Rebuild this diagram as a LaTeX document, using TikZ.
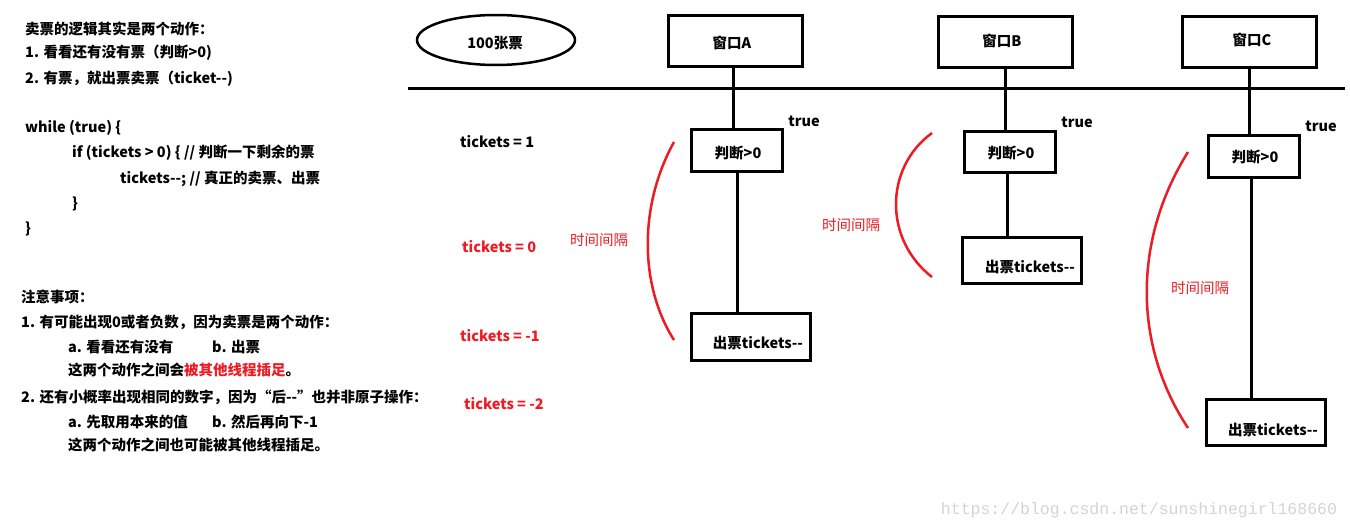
\documentclass[tikz,border=0pt]{standalone}
\usepackage{fontspec}
\usetikzlibrary{shapes.geometric}
\newfontfamily\cjk{Noto Sans CJK SC}
\newfontfamily\wmfont{Liberation Mono}
\definecolor{pred}{HTML}{ED1C24}
\definecolor{wm}{HTML}{D4D4D4}
\tikzset{
  txt/.style={inner sep=0pt, font=\cjk\bfseries\fontsize{14.5}{17}\selectfont},
  ltxt/.style={txt, anchor=west},
  rtxt/.style={ltxt, text=pred},
  gap/.style={inner sep=0pt, text=pred, font=\cjk\fontsize{14.5}{17}\selectfont},
  box/.style={draw, line width=3pt, inner sep=0pt},
  wbox/.style={box, minimum width=134pt, minimum height=51pt},
  jbox/.style={box, minimum width=91pt, minimum height=42pt},
  obox/.style={box, minimum width=119pt, minimum height=47pt},
  link/.style={line width=3pt},
  arcline/.style={draw=pred, line width=2.5pt},
}
\begin{document}
\begin{tikzpicture}[x=1pt,y=-1pt]
\useasboundingbox[fill=white] (0,0) rectangle (1350,530);

% left text block
\node[ltxt] (l1) at (25,29) {卖票的逻辑其实是两个动作：};
\node[ltxt] (l2) at (25,53) {1. 看看还有没有票（判断>0)};
\node[ltxt] (l3) at (25,79) {2. 有票，就出票卖票（ticket--)};
\node[ltxt] (l4) at (25,128) {while (true) \{};
\node[ltxt] (l5) at (72,153) {if (tickets > 0) \{ // 判断一下剩余的票};
\node[ltxt] (l6) at (120,179) {tickets--; // 真正的卖票、出票};
\node[ltxt] (l7) at (72,204) {\}};
\node[ltxt] (l8) at (25,229) {\}};

\node[ltxt] (n1) at (21,297) {注意事项：};
\node[ltxt] (n2) at (21,322) {1. 有可能出现0或者负数，因为卖票是两个动作：};
\node[ltxt] (n3a) at (68,347) {a. 看看还有没有};
\node[ltxt] (n3b) at (212,347) {b. 出票};
\node[ltxt] (n4) at (68,370) {这两个动作之间会\textcolor{pred}{被其他线程插足}。};
\node[ltxt] (n5) at (21,397) {2. 还有小概率出现相同的数字，因为“后--”也并非原子操作：};
\node[ltxt] (n6a) at (68,422) {a. 先取用本来的值};
\node[ltxt] (n6b) at (212,422) {b. 然后再向下-1};
\node[ltxt] (n7) at (68,445) {这两个动作之间也可能被其他线程插足。};

% tickets labels
\node[ltxt] (t1) at (460,142) {tickets = 1};
\node[rtxt] (t0) at (462,247) {tickets = 0};
\node[rtxt] (tm1) at (460,336) {tickets = -1};
\node[rtxt] (tm2) at (464,404) {tickets = -2};

% ellipse
\node[draw, ellipse, line width=2.5pt, minimum width=158pt, minimum height=50pt] (pool) at (496,40) {};
\node[txt] (poolt) at (495,43) {100张票};

% horizontal line
\coordinate (hl) at (408,88);
\coordinate (hr) at (1345,88);
\draw[link] (hl) -- (hr);

% windows
\node[wbox] (winA) at (735.5,41) {};
\node[wbox] (winB) at (1005.5,42) {};
\node[wbox] (winC) at (1249.5,42) {};
\node[txt] (winAt) at (732,43) {窗口A};
\node[txt] (winBt) at (1002,41) {窗口B};
\node[txt] (winCt) at (1252,40) {窗口C};

% judge boxes
\node[jbox] (judA) at (737,150.5) {};
\node[jbox, minimum height=41pt] (judB) at (1010,152) {};
\node[jbox] (judC) at (1254,156.5) {};
\node[txt] (judAt) at (738,153) {判断>0};
\node[txt] (judBt) at (1011,153) {判断>0};
\node[txt] (judCt) at (1255,157) {判断>0};

% true labels
\node[txt] (trA) at (804,121) {true};
\node[txt] (trB) at (1077,122) {true};
\node[txt] (trC) at (1321,126) {true};

% out boxes
\node[obox] (outA) at (751,337) {};
\node[obox, minimum height=46pt] (outB) at (1022,260.5) {};
\node[obox, minimum height=46pt] (outC) at (1266,422.5) {};
\node[txt] (outAt) at (758,343) {出票tickets--};
\node[txt] (outBt) at (1030,267) {出票tickets--};
\node[txt] (outCt) at (1273,430) {出票tickets--};

% connectors
\draw[link] ([xshift=-2.5pt]winA.south) -- ([xshift=-2.5pt]winA.south |- judA.north);
\draw[link] (judA.south) -- (judA.south |- outA.north);
\draw[link] (winB.south) -- (winB.south |- judB.north);
\draw[link] ([xshift=-3pt]judB.south) -- ([xshift=-3pt]judB.south |- outB.north);
\draw[link] ([yshift=3.5pt]winC.south) -- (winC.south |- judC.north);
\draw[link] ([xshift=-3pt]judC.south) -- ([xshift=-3pt]judC.south |- outC.north);

% time-gap arcs
\coordinate (aA1) at (674,142); \coordinate (aA2) at (674,340);
\coordinate (aB1) at (932,133); \coordinate (aB2) at (932,277);
\coordinate (aC1) at (1188,152); \coordinate (aC2) at (1188,428);
\draw[arcline] (aA1) .. controls (639,205) and (639,285) .. (aA2);
\draw[arcline] (aB1) .. controls (884,168) and (884,240) .. (aB2);
\draw[arcline] (aC1) .. controls (1133,240) and (1133,345) .. (aC2);
\node[gap] (gA) at (599,240) {时间间隔};
\node[gap] (gB) at (851,225) {时间间隔};
\node[gap] (gC) at (1200,288) {时间间隔};

% watermark
\node[inner sep=0pt, text=wm, font=\wmfont\fontsize{16.5}{18}\selectfont] (wmk) at (1139,510) {https://blog.csdn.net/sunshinegirl168660};
\end{tikzpicture}
\end{document}
